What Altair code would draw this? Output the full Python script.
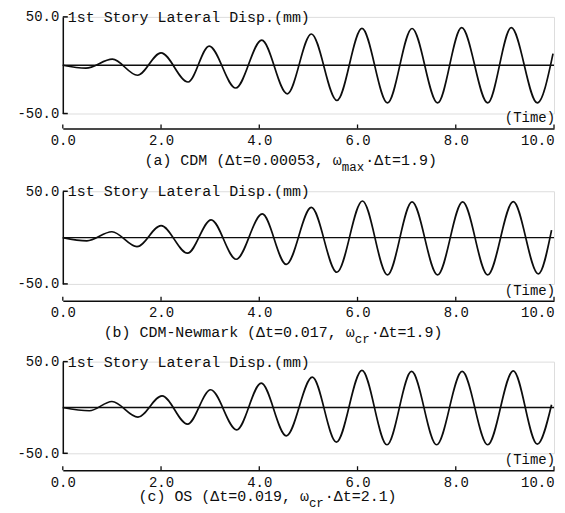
import altair as alt
import pandas as pd

# ---- data (extrema of each response curve) ----
t_a = [0.0, 0.47, 1.01, 1.52, 2.0, 2.55, 2.98, 3.52, 4.05, 4.57, 5.06, 5.58, 6.09, 6.61, 7.11, 7.63, 8.12, 8.65, 9.13, 9.66, 9.98]
v_a = [0.0, -3.0, 6.2, -10.4, 12.8, -17.4, 19.8, -23.6, 26.0, -29.6, 32.3, -36.5, 38.1, -39.0, 38.0, -39.0, 38.8, -39.0, 38.8, -39.0, 12.0]

t_b = [0.0, 0.49, 1.0, 1.51, 2.0, 2.54, 3.02, 3.53, 4.06, 4.55, 5.06, 5.58, 6.10, 6.61, 7.11, 7.63, 8.14, 8.65, 9.17, 9.68, 9.95]
v_b = [0.0, -3.5, 6.3, -9.8, 12.9, -16.8, 19.2, -23.4, 25.5, -29.0, 32.5, -37.4, 39.5, -40.2, 38.5, -40.2, 38.5, -40.2, 38.8, -39.2, 8.0]

t_c = [0.0, 0.54, 1.0, 1.53, 2.02, 2.54, 3.01, 3.54, 4.04, 4.55, 5.08, 5.57, 6.09, 6.60, 7.10, 7.61, 8.13, 8.65, 9.17, 9.66, 9.95]
v_c = [0.0, -3.6, 6.5, -10.5, 12.7, -18.2, 19.3, -24.4, 26.5, -30.9, 33.1, -37.8, 40.4, -40.7, 39.3, -40.7, 39.3, -40.7, 40.0, -40.0, 3.0]

x_ticks = [0, 2, 4, 6, 8, 10]
y_ticks = [-50, 50]
zero_line = [0, 10]

title_text = "1st Story Lateral Disp.(mm)"
time_text = "(Time)"
cap_main = ["(a) CDM (\u0394t=0.00053, \u03c9", "(b) CDM-Newmark (\u0394t=0.017, \u03c9", "(c) OS (\u0394t=0.019, \u03c9"]
cap_sub = ["max", "cr", "cr"]
cap_tail = ["\u00b7\u0394t=1.9)", "\u00b7\u0394t=1.9)", "\u00b7\u0394t=2.1)"]

FONT = "Liberation Mono"
INK = "#0d0d0d"
W = 493
FS = 15
CW = FS * 0.6
SFS = 12.5


def panel(t, v, h, xoff, cap_i, cap_x, cap_dy, time_dy, anchor):
    xs = alt.Scale(domain=[0, 10], nice=False, zero=False)
    ys = alt.Scale(domain=[-50, 50], nice=False, zero=False)
    x_axis = alt.Axis(values=x_ticks, format=".1f", offset=xoff, ticks=False, grid=False,
                      title=None, labelPadding=5, labelFontSize=14, labelFont=FONT,
                      labelFlush=False, labelOverlap=False,
                      labelAlign=alt.ExprRef(expr="datum.value >= 10 ? 'right' : 'center'"),
                      labelColor=INK, domainColor=INK, domainWidth=1.5)
    y_axis = alt.Axis(values=y_ticks, ticks=False, grid=False, title=None,
                      labelExpr="(datum.value < 0 ? '-' : '') + format(abs(datum.value), '.1f')",
                      labelPadding=4, labelFontSize=14, labelFont=FONT, labelColor=INK,
                      labelFlush=False,
                      domainColor=INK, domainWidth=1.5)

    curve = alt.Chart(pd.DataFrame({"t": t, "v": v})).mark_line(
        interpolate="monotone", color=INK, strokeWidth=1.7
    ).encode(x=alt.X("t:Q", scale=xs, axis=x_axis), y=alt.Y("v:Q", scale=ys, axis=y_axis))

    zero = alt.Chart(pd.DataFrame({"t": [zero_line[0]], "t2": [zero_line[1]], "v": [0]})).mark_rule(
        color=INK, strokeWidth=1.4
    ).encode(x=alt.X("t:Q", scale=xs, axis=x_axis), x2="t2:Q", y=alt.Y("v:Q", scale=ys, axis=y_axis))

    yt = alt.Chart(pd.DataFrame({"v": y_ticks})).mark_rule(color=INK, strokeWidth=1.5).encode(
        y=alt.Y("v:Q", scale=ys, axis=y_axis), x=alt.value(0), x2=alt.value(5))

    xt = alt.Chart(pd.DataFrame({"t": x_ticks})).mark_rule(color=INK, strokeWidth=1.3).encode(
        x=alt.X("t:Q", scale=xs, axis=x_axis), y=alt.value(h + xoff), y2=alt.value(h + xoff - 4))

    ttl = alt.Chart(pd.DataFrame({"s": [title_text]})).mark_text(
        align="left", baseline="middle", font=FONT, fontSize=FS, color=INK
    ).encode(text="s:N", x=alt.value(5), y=alt.value(0))
    tm = alt.Chart(pd.DataFrame({"s": [time_text]})).mark_text(
        align="right", baseline="middle", font=FONT, fontSize=14, color=INK
    ).encode(text="s:N", x=alt.value(W + 1), y=alt.value(h + time_dy))

    m = cap_main[cap_i]
    s = cap_sub[cap_i]
    tl = cap_tail[cap_i]
    cy = h + cap_dy
    c1 = alt.Chart(pd.DataFrame({"s": [m]})).mark_text(
        align="left", baseline="middle", font=FONT, fontSize=FS, color=INK
    ).encode(text="s:N", x=alt.value(cap_x), y=alt.value(cy))
    x2 = cap_x + len(m) * CW
    c2 = alt.Chart(pd.DataFrame({"s": [s]})).mark_text(
        align="left", baseline="middle", font=FONT, fontSize=SFS, color=INK
    ).encode(text="s:N", x=alt.value(x2), y=alt.value(cy + 7))
    x3 = x2 + len(s) * SFS * 0.6 + 1
    c3 = alt.Chart(pd.DataFrame({"s": [tl]})).mark_text(
        align="left", baseline="middle", font=FONT, fontSize=FS, color=INK
    ).encode(text="s:N", x=alt.value(x3), y=alt.value(cy))

    layers = [zero, curve, yt, xt, ttl, tm, c1, c2, c3]
    if anchor:
        anc = alt.Chart(pd.DataFrame({"s": [0]})).mark_rule(opacity=0, strokeWidth=0).encode(
            x=alt.value(-54), x2=alt.value(-53), y=alt.value(-7), y2=alt.value(-6))
        layers.append(anc)
    return alt.layer(*layers).properties(width=W, height=h)


pa = panel(t_a, v_a, 97, 15, 0, 82, 47, 4, True)
pb = panel(t_b, v_b, 93, 17, 1, 41, 48, 7, False)
pc = panel(t_c, v_c, 92, 17, 2, 76, 43, 7, False)

chart = alt.vconcat(pa, pb, pc, spacing=78, bounds="flush").properties(
    padding={"left": 0, "top": 0, "right": 0, "bottom": 0}
).configure_view(stroke=None).configure(background="white")

chart.save("out.html", embed_options={"renderer": "svg", "actions": False})
